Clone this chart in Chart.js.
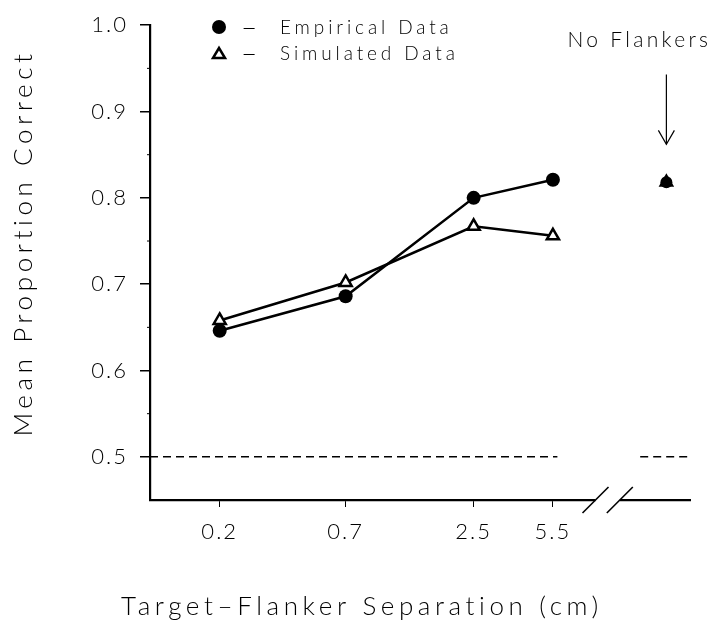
<!DOCTYPE html>
<html>
<head>
<meta charset="utf-8">
<script src="https://cdn.jsdelivr.net/npm/chart.js@4"></script>
<style>
html,body{margin:0;padding:0;background:#fff;}
#wrap{width:711px;height:626px;}
</style>
</head>
<body>
<div id="wrap"><canvas id="c" width="711" height="626"></canvas></div>
<script>
// ---- data ----
const separations = [0.2, 0.7, 2.5, 5.5];          // cm, log-spaced x axis
const empirical   = [0.646, 0.686, 0.800, 0.821];
const simulated   = [0.658, 0.702, 0.767, 0.756];
const noFlankerX  = 17;                             // nominal x slot for "No Flankers"
const noFlankerEmpirical = 0.818;
const noFlankerSimulated = 0.818;
const chanceLevel = 0.5;
const yTicks = [0.5, 0.6, 0.7, 0.8, 0.9, 1.0];
const yMinorTicks = [0.55, 0.65, 0.75, 0.85, 0.95];
const xTickLabels = ['0.2', '0.7', '2.5', '5.5'];
const legendLabels = ['Empirical Data', 'Simulated Data'];

const FONT = "Lato, 'DejaVu Sans', sans-serif";

const toPts = (xs, ys) => xs.map((x, i) => ({x, y: ys[i]}));

const extras = {
  id: 'extras',
  beforeDraw(chart) { chart.ctx.letterSpacing = '2px'; },
  afterDraw(chart) {
    const ctx = chart.ctx, xs = chart.scales.x, ys = chart.scales.y;
    const ca = chart.chartArea;
    ctx.save();
    ctx.strokeStyle = '#000'; ctx.fillStyle = '#000';
    // minor y ticks
    ctx.lineWidth = 1;
    yMinorTicks.forEach(v => {
      const py = ys.getPixelForValue(v);
      ctx.beginPath(); ctx.moveTo(ca.left - 3, py); ctx.lineTo(ca.left, py); ctx.stroke();
    });
    // axis break
    const b1 = xs.getPixelForValue(8.4), b2 = xs.getPixelForValue(10.7);
    ctx.fillStyle = '#fff';
    ctx.fillRect(b1, ca.bottom - 3, b2 - b1, 6);
    ctx.lineWidth = 1.6;
    [b1, b2].forEach(bx => {
      ctx.beginPath(); ctx.moveTo(bx - 13, ca.bottom + 13); ctx.lineTo(bx + 13, ca.bottom - 13); ctx.stroke();
    });
    // arrow to No Flankers
    const ax = xs.getPixelForValue(noFlankerX);
    const ay1 = ys.getPixelForValue(0.943), ay2 = ys.getPixelForValue(0.862);
    ctx.lineWidth = 1.2;
    ctx.beginPath(); ctx.moveTo(ax, ay1); ctx.lineTo(ax, ay2); ctx.stroke();
    ctx.beginPath(); ctx.moveTo(ax - 8, ay2 - 14); ctx.lineTo(ax, ay2); ctx.lineTo(ax + 8, ay2 - 14); ctx.stroke();
    // texts
    ctx.fillStyle = '#000';
    ctx.font = `300 21px ${FONT}`;
    ctx.letterSpacing = '3.3px';
    ctx.textAlign = 'center'; ctx.textBaseline = 'alphabetic';
    ctx.fillText('No Flankers', ax - 27, 47);
    // legend
    const lx = ca.left + 69;
    // circle
    ctx.beginPath(); ctx.arc(lx, 27, 7, 0, Math.PI * 2); ctx.fill();
    // triangle
    ctx.lineWidth = 2.5; ctx.lineJoin = 'miter';
    ctx.beginPath(); ctx.moveTo(lx - 6, 58); ctx.lineTo(lx + 6, 58); ctx.lineTo(lx, 48); ctx.closePath();
    ctx.fillStyle = '#fff'; ctx.fill(); ctx.stroke();
    ctx.fillStyle = '#000';
    ctx.textAlign = 'left';
    ctx.letterSpacing = '0px';
    ctx.font = `300 28px ${FONT}`;
    ctx.fillText('–', lx + 22, 37);
    ctx.fillText('–', lx + 22, 63);
    ctx.font = `300 19px ${FONT}`;
    ctx.letterSpacing = '3.9px';
    ctx.fillText(legendLabels[0], lx + 61, 34);
    ctx.fillText(legendLabels[1], lx + 61, 60);
    // axis titles
    ctx.font = `300 26px ${FONT}`;
    ctx.letterSpacing = '4.6px';
    ctx.textAlign = 'center';
    ctx.fillText('Target–Flanker Separation (cm)', 362, 615);
    ctx.save();
    ctx.translate(32, 243);
    ctx.rotate(-Math.PI / 2);
    ctx.font = `300 26px ${FONT}`;
    ctx.letterSpacing = '4.6px';
    ctx.fillText('Mean Proportion Correct', 0, 0);
    ctx.restore();
    ctx.restore();
  }
};

new Chart(document.getElementById('c'), {
  type: 'line',
  data: {
    datasets: [
      {
        label: 'Empirical Data',
        data: toPts(separations, empirical),
        borderColor: '#000', borderWidth: 2.5,
        pointStyle: 'circle', pointRadius: 7, pointBackgroundColor: '#000', pointBorderWidth: 0,
        order: 1
      },
      {
        label: 'Simulated Data',
        data: toPts(separations, simulated),
        borderColor: '#000', borderWidth: 2.5,
        pointStyle: 'triangle', pointRadius: 7, pointBackgroundColor: '#fff', pointBorderColor: '#000', pointBorderWidth: 2.5,
        order: 2
      },
      {
        label: 'No Flankers simulated',
        data: [{x: noFlankerX, y: noFlankerSimulated}],
        showLine: false,
        pointStyle: 'triangle', pointRadius: 7, pointBackgroundColor: '#fff', pointBorderColor: '#000', pointBorderWidth: 2,
        order: 4
      },
      {
        label: 'No Flankers empirical',
        data: [{x: noFlankerX, y: noFlankerEmpirical}],
        showLine: false,
        pointStyle: 'circle', pointRadius: 6, pointBackgroundColor: '#000', pointBorderWidth: 0,
        order: 3
      },
      {
        label: 'chance 1',
        data: [{x: 0.1, y: chanceLevel}, {x: 5.75, y: chanceLevel}],
        borderColor: '#000', borderWidth: 1.5, borderDash: [8, 5], pointRadius: 0,
        order: 5
      },
      {
        label: 'chance 2',
        data: [{x: 13.1, y: chanceLevel}, {x: 21.5, y: chanceLevel}],
        borderColor: '#000', borderWidth: 1.5, borderDash: [8, 5], pointRadius: 0,
        order: 5
      }
    ]
  },
  options: {
    responsive: false,
    animation: false,
    events: [],
    layout: { padding: { top: 17, right: 21, left: 0, bottom: 0 } },
    plugins: { legend: { display: false }, tooltip: { enabled: false } },
    scales: {
      x: {
        type: 'logarithmic',
        min: 0.1, max: 21.5,
        afterBuildTicks: s => { s.ticks = separations.map(v => ({value: v})); },
        afterFit: s => { s.height = 126; },
        grid: { display: true, drawOnChartArea: false, drawTicks: true, tickLength: 7, color: '#000', lineWidth: 1 },
        border: { display: true, color: '#000', width: 2.2 },
        ticks: {
          autoSkip: false, maxRotation: 0, padding: 12, color: '#000',
          font: { family: FONT, size: 22, weight: 300 },
          callback: (v, i) => xTickLabels[i]
        }
      },
      y: {
        type: 'linear',
        min: 0.45, max: 1.0,
        afterBuildTicks: s => { s.ticks = yTicks.map(v => ({value: v})); },
        afterFit: s => { s.width = 150; },
        grid: { display: true, drawOnChartArea: false, drawTicks: true, tickLength: 10, color: '#000', lineWidth: 1.5 },
        border: { display: true, color: '#000', width: 2.2 },
        ticks: {
          padding: 12, color: '#000',
          font: { family: FONT, size: 22, weight: 300 },
          callback: v => v.toFixed(1)
        }
      }
    }
  },
  plugins: [extras]
});
</script>
</body>
</html>
